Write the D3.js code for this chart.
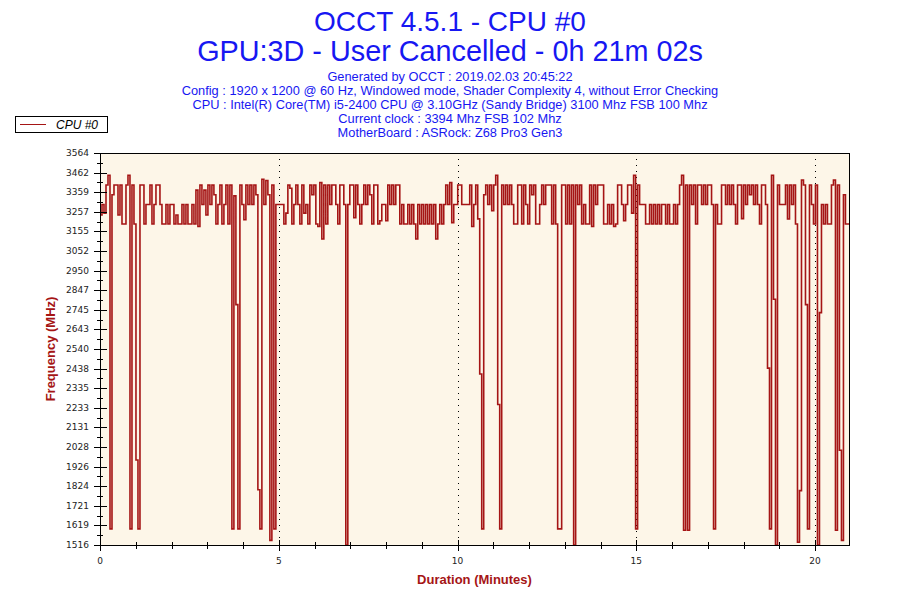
<!DOCTYPE html>
<html>
<head>
<meta charset="utf-8">
<script src="https://cdn.jsdelivr.net/npm/d3@7"></script>
<style>
  body { margin: 0; background: #fff; }
</style>
</head>
<body>
<script>
var titleLines = ["OCCT 4.5.1 - CPU #0", "GPU:3D - User Cancelled - 0h 21m 02s"];
var infoLines = [
    "Generated by OCCT : 2019.02.03 20:45:22",
    "Config : 1920 x 1200 @ 60 Hz, Windowed mode, Shader Complexity 4, without Error Checking",
    "CPU : Intel(R) Core(TM) i5-2400 CPU @ 3.10GHz (Sandy Bridge) 3100 Mhz FSB 100 Mhz",
    "Current clock : 3394 Mhz FSB 102 Mhz",
    "MotherBoard : ASRock: Z68 Pro3 Gen3"
];
var seriesName = "CPU #0";
var xTitle = "Duration (Minutes)";
var yTitle = "Frequency (MHz)";

// one reading every ~3.4 s (minutes)
var sampleStep = 0.0559;
var durationMax = 20.95;

// CPU #0 frequency readings, MHz
var cpuMhz = [
  3240,3295,3250,3397,3448,1600,3346,3397,3397,3240,3397,3193,3193,3397,3448,1600,3397,3193,1960,1600,3397,3397,3193,3295,3295,
  3397,3193,3295,3397,3397,3295,3193,3193,3295,3193,3295,3295,3193,3240,3193,3193,3295,3193,3295,3193,3193,3295,3193,3370,3180,
  3397,3295,3370,3240,3397,3295,3397,3346,3193,3295,3397,3193,3295,3397,3193,3397,1600,3340,2772,1600,3397,3295,3215,3397,3295,
  3397,3295,3397,3346,1805,1600,3427,3295,3420,3346,1540,3397,1600,3295,3295,3295,3295,3193,3250,3397,3380,3193,3295,3397,3295,
  3193,3397,3250,3295,3193,3397,3346,3397,3193,3180,3410,3115,3397,3193,3397,3295,3397,3397,3295,3193,3397,3397,3295,1516,3295,
  3397,3397,3226,3397,3295,3193,3295,3397,3295,3397,3346,3193,3397,3397,3193,3210,3295,3295,3210,3397,3295,3397,3295,3397,3397,
  3193,3295,3193,3193,3295,3193,3295,3193,3115,3295,3193,3295,3193,3295,3193,3295,3193,3295,3115,3193,3295,3193,3295,3397,3295,
  3410,3200,3295,3295,3397,3397,3295,3295,3295,3295,3397,3180,3295,3397,3220,2409,1600,3346,3397,3295,3397,3262,3397,3448,2250,
  1600,3397,3295,3397,3295,3397,3295,3193,3193,3397,3397,3193,3397,3295,3193,3397,3346,3397,3193,3193,3295,3397,3295,3397,3397,
  3397,3193,3397,3193,1600,1600,3397,3397,3193,3397,3193,3397,1516,3397,3295,3397,3193,3295,3193,3193,3397,3180,3397,3295,3397,
  3397,3397,3193,3193,3295,3193,3295,3180,3193,3397,3397,3295,3210,3295,3397,3397,3250,3448,1600,3397,3295,3295,3295,3193,3193,
  3295,3193,3295,3193,3295,3193,3295,3295,3193,3295,3193,3193,3295,3193,3295,3397,3448,1593,3397,1593,3397,3295,3397,3193,3397,
  3397,3295,3397,3295,3397,3397,3295,1600,3295,3193,3193,3397,3397,3295,3397,3295,3397,3295,3193,3397,3397,3221,3397,3295,3397,
  3346,3397,3295,3397,3295,3193,3397,3397,3295,2440,1600,3448,2800,1516,3397,3295,3295,3295,3397,3219,3397,3295,3397,3193,1530,
  1800,3423,3397,2772,1600,3397,3295,3193,3397,1516,2730,3295,3193,3295,3193,3193,3397,3423,1593,3397,2011,1540,3346,3193,3193,
  3193
];

var yTicks = [3564, 3462, 3359, 3257, 3155, 3052, 2950, 2847, 2745, 2643, 2540,
              2438, 2335, 2233, 2131, 2028, 1926, 1824, 1721, 1619, 1516];
var xTicks = [0, 1, 2, 3, 4, 5, 6, 7, 8, 9, 10, 11, 12, 13, 14, 15, 16, 17, 18, 19, 20];
var xLabels = [0, 5, 10, 15, 20];

function draw_chart() {
    var width = 900, height = 600;
    var pLeft = 100, pRight = 849, pTop = 153, pBottom = 545;
    var red = "#a51515", blue = "#1717f2";
    var sans = "'Liberation Sans', Arial, sans-serif";
    var tickFont = "'DejaVu Sans', Verdana, sans-serif";

    var svg = d3.select("body").append("svg")
        .attr("width", width).attr("height", height);

    var x = d3.scaleLinear().domain([0, durationMax]).range([pLeft, pRight]);
    var y = d3.scaleLinear().domain([d3.min(yTicks), d3.max(yTicks)]).range([pBottom, pTop]);

    // titles
    svg.selectAll(".title").data(titleLines).enter().append("text")
        .attr("x", width / 2).attr("y", (d, i) => 31 + i * 30)
        .attr("text-anchor", "middle")
        .style("font-family", sans).style("font-size", (d, i) => i == 0 ? "28px" : "28.8px")
        .attr("fill", blue)
        .text(d => d);
    svg.selectAll(".info").data(infoLines).enter().append("text")
        .attr("x", width / 2).attr("y", (d, i) => 81 + i * 14)
        .attr("text-anchor", "middle")
        .style("font-family", sans).style("font-size", "12.8px")
        .attr("fill", blue)
        .text(d => d);

    // plot background
    svg.append("rect").attr("x", pLeft).attr("y", pTop)
        .attr("width", pRight - pLeft).attr("height", pBottom - pTop)
        .attr("fill", "#fdf6e8");

    // dotted grid at labelled minutes
    svg.append("g").selectAll("line").data(xLabels.filter(d => d > 0)).enter().append("line")
        .attr("x1", d => Math.round(x(d)) + 0.5).attr("x2", d => Math.round(x(d)) + 0.5)
        .attr("y1", pTop).attr("y2", pBottom)
        .attr("stroke", "#000").attr("stroke-dasharray", "1,5");

    // series
    svg.append("clipPath").attr("id", "clip").append("rect")
        .attr("x", pLeft).attr("y", pTop).attr("width", pRight - pLeft).attr("height", pBottom - pTop);

    var line = d3.line()
        .x((d, i) => x(i * sampleStep))
        .y(d => y(d))
        .curve(d3.curveStepAfter);

    svg.append("path")
        .datum(cpuMhz)
        .attr("clip-path", "url(#clip)")
        .attr("fill", "none")
        .attr("stroke", red)
        .attr("stroke-width", 1.6)
        .attr("d", line);

    // frame
    svg.append("rect").attr("x", pLeft + 0.5).attr("y", pTop + 0.5)
        .attr("width", pRight - pLeft).attr("height", pBottom - pTop)
        .attr("fill", "none").attr("stroke", "#000").attr("shape-rendering", "crispEdges");

    // y axis ticks
    var yg = svg.append("g").attr("shape-rendering", "crispEdges");
    yg.selectAll(".major").data(yTicks).enter().append("line")
        .attr("x1", pLeft - 6).attr("x2", pLeft + 7)
        .attr("y1", d => Math.round(y(d)) + 0.5).attr("y2", d => Math.round(y(d)) + 0.5)
        .attr("stroke", "#000");
    var yMinor = d3.pairs(yTicks).map(p => (p[0] + p[1]) / 2);
    yg.selectAll(".minor").data(yMinor).enter().append("line")
        .attr("x1", pLeft - 3).attr("x2", pLeft + 3)
        .attr("y1", d => Math.round(y(d)) + 0.5).attr("y2", d => Math.round(y(d)) + 0.5)
        .attr("stroke", "#000");
    yg.selectAll("text").data(yTicks).enter().append("text")
        .attr("x", pLeft - 11).attr("y", d => y(d))
        .attr("dy", "0.35em").attr("text-anchor", "end")
        .style("font-family", tickFont).style("font-size", "9px").attr("fill", "#222")
        .text(d => d);

    // x axis ticks
    var xg = svg.append("g").attr("shape-rendering", "crispEdges");
    xg.selectAll("line").data(xTicks).enter().append("line")
        .attr("x1", d => Math.round(x(d)) + 0.5).attr("x2", d => Math.round(x(d)) + 0.5)
        .attr("y1", d => xLabels.indexOf(d) >= 0 ? pBottom - 5 : pBottom - 3)
        .attr("y2", d => xLabels.indexOf(d) >= 0 ? pBottom + 6 : pBottom + 4)
        .attr("stroke", "#000");
    xg.selectAll("text").data(xLabels).enter().append("text")
        .attr("x", d => x(d)).attr("y", pBottom + 19)
        .attr("text-anchor", "middle")
        .style("font-family", tickFont).style("font-size", "9px").attr("fill", "#222")
        .text(d => d);

    // axis titles
    svg.append("text")
        .attr("x", (pLeft + pRight) / 2).attr("y", pBottom + 39)
        .attr("text-anchor", "middle")
        .style("font-family", sans).style("font-weight", "bold").style("font-size", "13px")
        .attr("fill", red).text(xTitle);
    svg.append("text")
        .attr("transform", "translate(55," + ((pTop + pBottom) / 2) + ") rotate(-90)")
        .attr("text-anchor", "middle")
        .style("font-family", sans).style("font-weight", "bold").style("font-size", "13px")
        .attr("fill", red).text(yTitle);

    // legend
    var lg = svg.append("g").attr("shape-rendering", "crispEdges");
    lg.append("rect").attr("x", 15.5).attr("y", 116.5).attr("width", 92).attr("height", 16)
        .attr("fill", "#fff").attr("stroke", "#000");
    lg.append("line").attr("x1", 20).attr("x2", 46).attr("y1", 124.5).attr("y2", 124.5)
        .attr("stroke", red);
    lg.append("text").attr("x", 56).attr("y", 129)
        .style("font-family", sans).style("font-style", "italic").style("font-size", "12px")
        .attr("fill", "#000")
        .text(seriesName);
}

draw_chart();
</script>
</body>
</html>
